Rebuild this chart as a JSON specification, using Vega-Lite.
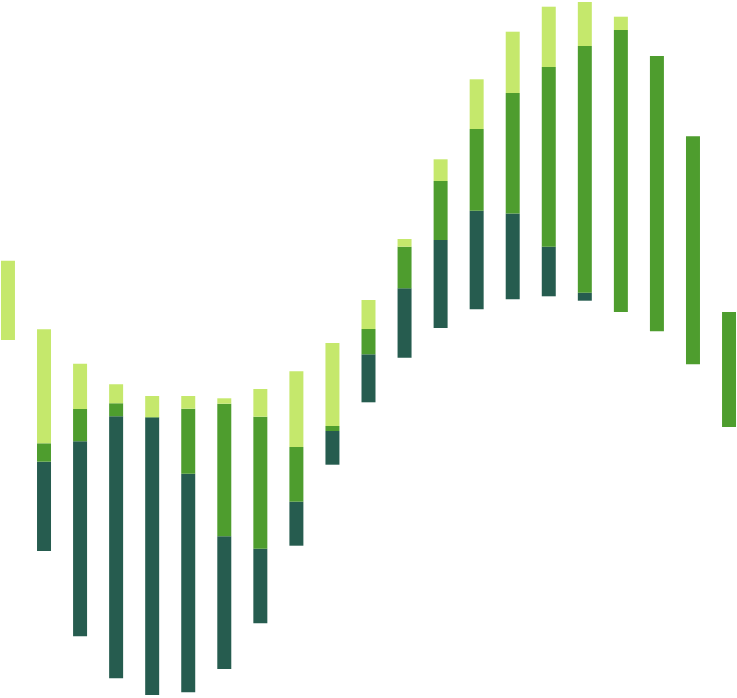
{
  "$schema": "https://vega.github.io/schema/vega-lite/v6.json",
  "width": 737,
  "height": 698,
  "padding": 0,
  "autosize": {"type": "none"},
  "background": "white",
  "view": {"stroke": null},
  "data": {
    "values": [
      {"bar": 0, "segment": "light", "start": 358, "end": 437.3},
      {"bar": 1, "segment": "dark", "start": 147, "end": 236.3},
      {"bar": 1, "segment": "medium", "start": 236.3, "end": 254.7},
      {"bar": 1, "segment": "light", "start": 254.7, "end": 368.7},
      {"bar": 2, "segment": "dark", "start": 61.7, "end": 256.7},
      {"bar": 2, "segment": "medium", "start": 256.7, "end": 289},
      {"bar": 2, "segment": "light", "start": 289, "end": 334.3},
      {"bar": 3, "segment": "dark", "start": 19.7, "end": 281.7},
      {"bar": 3, "segment": "medium", "start": 281.7, "end": 294.7},
      {"bar": 3, "segment": "light", "start": 294.7, "end": 313.7},
      {"bar": 4, "segment": "dark", "start": 3, "end": 280.5},
      {"bar": 4, "segment": "medium", "start": 280.5, "end": 281},
      {"bar": 4, "segment": "light", "start": 281, "end": 302},
      {"bar": 5, "segment": "dark", "start": 5.7, "end": 224.3},
      {"bar": 5, "segment": "medium", "start": 224.3, "end": 289.3},
      {"bar": 5, "segment": "light", "start": 289.3, "end": 302},
      {"bar": 6, "segment": "dark", "start": 29, "end": 161.7},
      {"bar": 6, "segment": "medium", "start": 161.7, "end": 294.3},
      {"bar": 6, "segment": "light", "start": 294.3, "end": 299.7},
      {"bar": 7, "segment": "dark", "start": 74.7, "end": 149.3},
      {"bar": 7, "segment": "medium", "start": 149.3, "end": 281.3},
      {"bar": 7, "segment": "light", "start": 281.3, "end": 309},
      {"bar": 8, "segment": "dark", "start": 152.3, "end": 196.3},
      {"bar": 8, "segment": "medium", "start": 196.3, "end": 251},
      {"bar": 8, "segment": "light", "start": 251, "end": 326.7},
      {"bar": 9, "segment": "dark", "start": 233.3, "end": 267},
      {"bar": 9, "segment": "medium", "start": 267, "end": 272},
      {"bar": 9, "segment": "light", "start": 272, "end": 355},
      {"bar": 10, "segment": "dark", "start": 295.7, "end": 343.7},
      {"bar": 10, "segment": "medium", "start": 343.7, "end": 369},
      {"bar": 10, "segment": "light", "start": 369, "end": 398},
      {"bar": 11, "segment": "dark", "start": 340.3, "end": 409.7},
      {"bar": 11, "segment": "medium", "start": 409.7, "end": 451.3},
      {"bar": 11, "segment": "light", "start": 451.3, "end": 459},
      {"bar": 12, "segment": "dark", "start": 370, "end": 458},
      {"bar": 12, "segment": "medium", "start": 458, "end": 517},
      {"bar": 12, "segment": "light", "start": 517, "end": 538.7},
      {"bar": 13, "segment": "dark", "start": 388.7, "end": 487.3},
      {"bar": 13, "segment": "medium", "start": 487.3, "end": 569},
      {"bar": 13, "segment": "light", "start": 569, "end": 618.7},
      {"bar": 14, "segment": "dark", "start": 398.7, "end": 484.5},
      {"bar": 14, "segment": "medium", "start": 484.5, "end": 605},
      {"bar": 14, "segment": "light", "start": 605, "end": 666.3},
      {"bar": 15, "segment": "dark", "start": 401.7, "end": 451.3},
      {"bar": 15, "segment": "medium", "start": 451.3, "end": 631},
      {"bar": 15, "segment": "light", "start": 631, "end": 691.3},
      {"bar": 16, "segment": "dark", "start": 397.3, "end": 405.3},
      {"bar": 16, "segment": "medium", "start": 405.3, "end": 652},
      {"bar": 16, "segment": "light", "start": 652, "end": 696},
      {"bar": 17, "segment": "medium", "start": 386, "end": 668},
      {"bar": 17, "segment": "light", "start": 668, "end": 681.3},
      {"bar": 18, "segment": "medium", "start": 366.7, "end": 642},
      {"bar": 19, "segment": "medium", "start": 333.7, "end": 561.7},
      {"bar": 20, "segment": "medium", "start": 271, "end": 386}
    ]
  },
  "mark": {"type": "bar"},
  "encoding": {
    "x": {
      "field": "bar",
      "type": "ordinal",
      "axis": null,
      "scale": {"paddingInner": 0.612, "paddingOuter": 0.027}
    },
    "y": {
      "field": "start",
      "type": "quantitative",
      "axis": null,
      "scale": {"domain": [0, 698], "nice": false, "zero": false}
    },
    "y2": {"field": "end"},
    "color": {
      "field": "segment",
      "type": "nominal",
      "legend": null,
      "scale": {
        "domain": ["dark", "medium", "light"],
        "range": ["#265c4f", "#4e9d2e", "#c5e86c"]
      }
    }
  }
}
